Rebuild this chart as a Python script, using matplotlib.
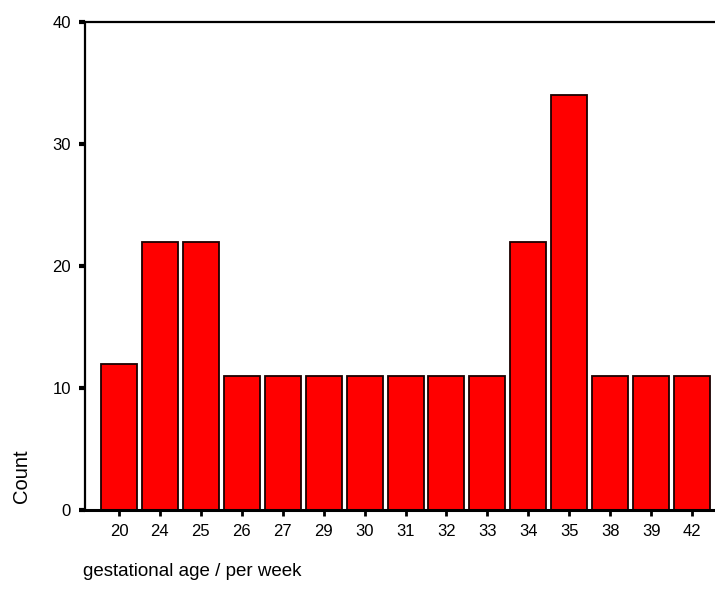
import matplotlib
matplotlib.use("Agg")
import matplotlib.pyplot as plt

categories = ["20", "24", "25", "26", "27", "29", "30", "31", "32", "33", "34", "35", "38", "39", "42"]
counts = [12, 22, 22, 11, 11, 11, 11, 11, 11, 11, 22, 34, 11, 11, 11]
yticks = [0, 10, 20, 30, 40]

plt.rcParams['font.family'] = ['Liberation Sans', 'DejaVu Sans']

fig = plt.figure(figsize=(7.15, 5.94), dpi=100)
W, H = 715, 594
ax = fig.add_axes([85 / W, (H - 510) / H, (W - 85) / W, (510 - 22) / H])

x = list(range(len(categories)))
ax.bar(x, counts, width=0.88, color="#ff0000", edgecolor="#1a0000", linewidth=1.3)

ax.set_xlim(-0.83, 14.56)
ax.set_ylim(0, 40)
ax.set_xticks(x)
ax.set_xticklabels(categories)
ax.set_yticks(yticks)

for s in ["left", "top"]:
    ax.spines[s].set_linewidth(1.6)
ax.spines["bottom"].set_linewidth(2.2)
ax.spines["right"].set_visible(False)

ax.tick_params(axis="y", length=4, width=3, pad=6, labelsize=12, colors="black")
ax.tick_params(axis="x", length=4, width=2, pad=6, labelsize=12, colors="black")

fig.text(21 / W, 1 - 476 / H, "Count", rotation=90, ha="center", va="center", fontsize=14.5)
fig.text(83 / W, 1 - 572 / H, "gestational age / per week", ha="left", va="center", fontsize=13.5)

fig.savefig("out.png", dpi=100)
